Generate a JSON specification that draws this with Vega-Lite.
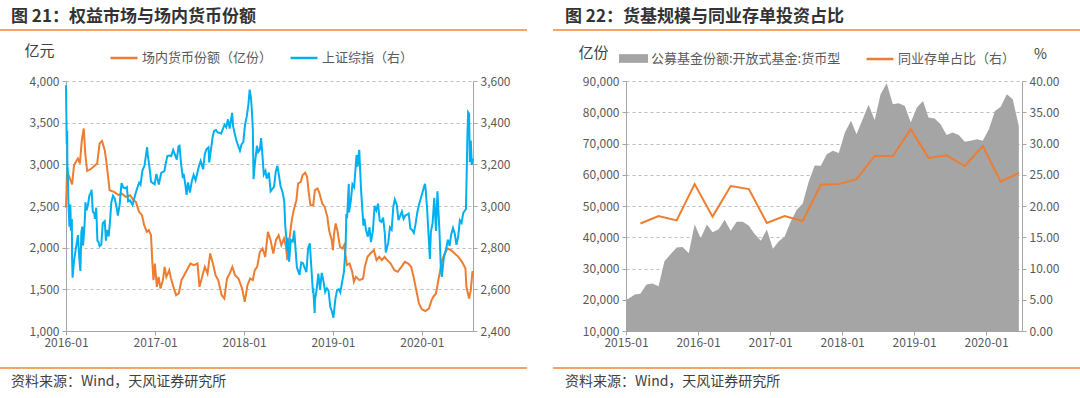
{
  "$schema": "https://vega.github.io/schema/vega-lite/v6.json",
  "background": "white",
  "padding": {"left": 0, "top": 7, "right": 0, "bottom": 0},
  "config": {
    "view": {"stroke": null},
    "font": "Noto Sans CJK SC",
    "axis": {
      "labelFont": "Noto Sans CJK SC",
      "labelFontSize": 12,
      "labelColor": "#595959",
      "domainColor": "#A6A6A6",
      "tickColor": "#A6A6A6",
      "gridColor": "#BFBFBF",
      "gridDash": [3, 3],
      "tickSize": 4,
      "labelPadding": 3,
      "titleFont": "Noto Sans CJK SC"
    },
    "legend": {"labelFont": "Noto Sans CJK SC", "labelFontSize": 13, "labelColor": "#595959", "padding": 0, "labelLimit": 400},
    "title": {"font": "Noto Sans CJK SC"}
  },
  "datasets": {
    "money": [
      {"d": "2016-01-01", "v": 2480}, {"d": "2016-01-05", "v": 2900}, {"d": "2016-01-12", "v": 2870}, {"d": "2016-01-26", "v": 2760},
      {"d": "2016-02-03", "v": 2990}, {"d": "2016-02-19", "v": 3070}, {"d": "2016-02-27", "v": 3010}, {"d": "2016-03-06", "v": 3290},
      {"d": "2016-03-14", "v": 3430}, {"d": "2016-03-20", "v": 3130}, {"d": "2016-03-28", "v": 2920}, {"d": "2016-04-15", "v": 2950},
      {"d": "2016-05-08", "v": 3010}, {"d": "2016-05-18", "v": 3250}, {"d": "2016-05-28", "v": 3280}, {"d": "2016-06-08", "v": 3170},
      {"d": "2016-06-15", "v": 3030}, {"d": "2016-06-28", "v": 2690}, {"d": "2016-07-16", "v": 2670}, {"d": "2016-08-04", "v": 2630},
      {"d": "2016-08-16", "v": 2650}, {"d": "2016-09-02", "v": 2610}, {"d": "2016-09-20", "v": 2630}, {"d": "2016-10-04", "v": 2570},
      {"d": "2016-10-14", "v": 2550}, {"d": "2016-10-27", "v": 2430}, {"d": "2016-11-08", "v": 2390}, {"d": "2016-11-17", "v": 2270},
      {"d": "2016-11-28", "v": 2190}, {"d": "2016-12-06", "v": 2210}, {"d": "2016-12-15", "v": 2150}, {"d": "2016-12-20", "v": 1850},
      {"d": "2016-12-25", "v": 1610}, {"d": "2016-12-31", "v": 1810}, {"d": "2017-01-08", "v": 1530}, {"d": "2017-01-15", "v": 1650},
      {"d": "2017-01-23", "v": 1510}, {"d": "2017-02-02", "v": 1610}, {"d": "2017-02-09", "v": 1770}, {"d": "2017-02-16", "v": 1650},
      {"d": "2017-02-28", "v": 1730}, {"d": "2017-03-07", "v": 1630}, {"d": "2017-03-17", "v": 1530}, {"d": "2017-03-28", "v": 1430},
      {"d": "2017-04-08", "v": 1450}, {"d": "2017-04-19", "v": 1610}, {"d": "2017-04-30", "v": 1670}, {"d": "2017-05-11", "v": 1730},
      {"d": "2017-05-26", "v": 1810}, {"d": "2017-06-09", "v": 1790}, {"d": "2017-06-24", "v": 1810}, {"d": "2017-07-02", "v": 1530},
      {"d": "2017-07-13", "v": 1650}, {"d": "2017-07-24", "v": 1770}, {"d": "2017-08-04", "v": 1690}, {"d": "2017-08-15", "v": 1930},
      {"d": "2017-08-26", "v": 1810}, {"d": "2017-09-06", "v": 1670}, {"d": "2017-09-17", "v": 1610}, {"d": "2017-10-01", "v": 1430},
      {"d": "2017-10-12", "v": 1390}, {"d": "2017-10-23", "v": 1630}, {"d": "2017-11-03", "v": 1690}, {"d": "2017-11-14", "v": 1770},
      {"d": "2017-11-25", "v": 1670}, {"d": "2017-12-09", "v": 1630}, {"d": "2017-12-24", "v": 1510}, {"d": "2018-01-04", "v": 1350},
      {"d": "2018-01-15", "v": 1550}, {"d": "2018-01-26", "v": 1630}, {"d": "2018-02-06", "v": 1610}, {"d": "2018-02-14", "v": 1730},
      {"d": "2018-02-24", "v": 1770}, {"d": "2018-03-07", "v": 1950}, {"d": "2018-03-18", "v": 1990}, {"d": "2018-03-29", "v": 1890},
      {"d": "2018-04-09", "v": 2190}, {"d": "2018-04-20", "v": 2090}, {"d": "2018-05-01", "v": 1930}, {"d": "2018-05-12", "v": 2090},
      {"d": "2018-05-23", "v": 2150}, {"d": "2018-06-03", "v": 2030}, {"d": "2018-06-14", "v": 2110}, {"d": "2018-06-21", "v": 2030},
      {"d": "2018-06-28", "v": 1850}, {"d": "2018-07-09", "v": 2170}, {"d": "2018-07-16", "v": 2330}, {"d": "2018-07-24", "v": 2450},
      {"d": "2018-08-04", "v": 2570}, {"d": "2018-08-11", "v": 2770}, {"d": "2018-08-22", "v": 2790}, {"d": "2018-08-29", "v": 2870},
      {"d": "2018-09-09", "v": 2900}, {"d": "2018-09-17", "v": 2850}, {"d": "2018-09-24", "v": 2650}, {"d": "2018-10-01", "v": 2510},
      {"d": "2018-10-12", "v": 2510}, {"d": "2018-10-19", "v": 2690}, {"d": "2018-10-30", "v": 2710}, {"d": "2018-11-07", "v": 2650},
      {"d": "2018-11-18", "v": 2530}, {"d": "2018-11-28", "v": 2490}, {"d": "2018-12-09", "v": 2370}, {"d": "2018-12-16", "v": 2210},
      {"d": "2018-12-27", "v": 2090}, {"d": "2019-01-01", "v": 1970}, {"d": "2019-01-05", "v": 2150}, {"d": "2019-01-12", "v": 2290},
      {"d": "2019-01-19", "v": 2210}, {"d": "2019-01-30", "v": 2010}, {"d": "2019-02-09", "v": 1990}, {"d": "2019-02-16", "v": 2030},
      {"d": "2019-02-27", "v": 1790}, {"d": "2019-03-10", "v": 1810}, {"d": "2019-03-21", "v": 1710}, {"d": "2019-03-28", "v": 1590},
      {"d": "2019-04-05", "v": 1650}, {"d": "2019-04-20", "v": 1610}, {"d": "2019-05-05", "v": 1630}, {"d": "2019-05-12", "v": 1770},
      {"d": "2019-05-23", "v": 1890}, {"d": "2019-06-03", "v": 1930}, {"d": "2019-06-18", "v": 1970}, {"d": "2019-06-29", "v": 1850},
      {"d": "2019-07-10", "v": 1890}, {"d": "2019-07-21", "v": 1850}, {"d": "2019-08-01", "v": 1890}, {"d": "2019-08-12", "v": 1850},
      {"d": "2019-08-26", "v": 1810}, {"d": "2019-09-10", "v": 1730}, {"d": "2019-09-24", "v": 1710}, {"d": "2019-10-09", "v": 1770},
      {"d": "2019-10-23", "v": 1830}, {"d": "2019-11-06", "v": 1810}, {"d": "2019-11-18", "v": 1770}, {"d": "2019-11-28", "v": 1650},
      {"d": "2019-12-09", "v": 1490}, {"d": "2019-12-20", "v": 1330}, {"d": "2020-01-01", "v": 1260}, {"d": "2020-01-15", "v": 1240},
      {"d": "2020-01-30", "v": 1270}, {"d": "2020-02-10", "v": 1370}, {"d": "2020-02-17", "v": 1410}, {"d": "2020-02-28", "v": 1450},
      {"d": "2020-03-10", "v": 1630}, {"d": "2020-03-24", "v": 1850}, {"d": "2020-04-04", "v": 1930}, {"d": "2020-04-15", "v": 1990},
      {"d": "2020-04-30", "v": 1970}, {"d": "2020-05-15", "v": 1930}, {"d": "2020-05-30", "v": 1890}, {"d": "2020-06-14", "v": 1830},
      {"d": "2020-06-28", "v": 1750}, {"d": "2020-07-02", "v": 1530}, {"d": "2020-07-13", "v": 1390}, {"d": "2020-07-20", "v": 1490},
      {"d": "2020-07-27", "v": 1720}
    ],
    "sse": [
      {"d": "2016-01-01", "v": 3580}, {"d": "2016-01-04", "v": 3296}, {"d": "2016-01-06", "v": 3361}, {"d": "2016-01-07", "v": 3125},
      {"d": "2016-01-08", "v": 3186}, {"d": "2016-01-11", "v": 3017}, {"d": "2016-01-15", "v": 2901}, {"d": "2016-01-19", "v": 3007},
      {"d": "2016-01-21", "v": 2881}, {"d": "2016-01-25", "v": 2938}, {"d": "2016-01-26", "v": 2750}, {"d": "2016-01-28", "v": 2656},
      {"d": "2016-02-03", "v": 2739}, {"d": "2016-02-16", "v": 2837}, {"d": "2016-02-19", "v": 2860}, {"d": "2016-02-25", "v": 2742},
      {"d": "2016-02-29", "v": 2688}, {"d": "2016-03-04", "v": 2875}, {"d": "2016-03-08", "v": 2901}, {"d": "2016-03-11", "v": 2810},
      {"d": "2016-03-17", "v": 2904}, {"d": "2016-03-21", "v": 3018}, {"d": "2016-03-25", "v": 2979}, {"d": "2016-03-31", "v": 3004},
      {"d": "2016-04-06", "v": 3050}, {"d": "2016-04-13", "v": 3066}, {"d": "2016-04-15", "v": 3078}, {"d": "2016-04-20", "v": 2973},
      {"d": "2016-04-26", "v": 2964}, {"d": "2016-04-29", "v": 2938}, {"d": "2016-05-04", "v": 2992}, {"d": "2016-05-09", "v": 2833},
      {"d": "2016-05-13", "v": 2828}, {"d": "2016-05-18", "v": 2807}, {"d": "2016-05-25", "v": 2815}, {"d": "2016-05-31", "v": 2917},
      {"d": "2016-06-08", "v": 2927}, {"d": "2016-06-13", "v": 2834}, {"d": "2016-06-17", "v": 2885}, {"d": "2016-06-24", "v": 2854},
      {"d": "2016-06-30", "v": 2930}, {"d": "2016-07-05", "v": 3017}, {"d": "2016-07-12", "v": 3049}, {"d": "2016-07-19", "v": 3036},
      {"d": "2016-07-27", "v": 2992}, {"d": "2016-08-01", "v": 2954}, {"d": "2016-08-08", "v": 3004}, {"d": "2016-08-16", "v": 3110},
      {"d": "2016-08-23", "v": 3089}, {"d": "2016-08-31", "v": 3085}, {"d": "2016-09-07", "v": 3091}, {"d": "2016-09-12", "v": 3022},
      {"d": "2016-09-20", "v": 3027}, {"d": "2016-09-30", "v": 3005}, {"d": "2016-10-12", "v": 3058}, {"d": "2016-10-19", "v": 3084},
      {"d": "2016-10-27", "v": 3112}, {"d": "2016-11-02", "v": 3102}, {"d": "2016-11-10", "v": 3171}, {"d": "2016-11-18", "v": 3192},
      {"d": "2016-11-24", "v": 3241}, {"d": "2016-11-29", "v": 3282}, {"d": "2016-12-02", "v": 3244}, {"d": "2016-12-12", "v": 3153},
      {"d": "2016-12-15", "v": 3117}, {"d": "2016-12-23", "v": 3110}, {"d": "2016-12-30", "v": 3104}, {"d": "2017-01-06", "v": 3154},
      {"d": "2017-01-16", "v": 3103}, {"d": "2017-01-26", "v": 3159}, {"d": "2017-02-08", "v": 3167}, {"d": "2017-02-15", "v": 3212},
      {"d": "2017-02-20", "v": 3240}, {"d": "2017-02-28", "v": 3242}, {"d": "2017-03-08", "v": 3240}, {"d": "2017-03-16", "v": 3269},
      {"d": "2017-03-23", "v": 3248}, {"d": "2017-03-31", "v": 3223}, {"d": "2017-04-07", "v": 3286}, {"d": "2017-04-11", "v": 3289},
      {"d": "2017-04-18", "v": 3196}, {"d": "2017-04-25", "v": 3134}, {"d": "2017-04-28", "v": 3155}, {"d": "2017-05-05", "v": 3103},
      {"d": "2017-05-10", "v": 3053}, {"d": "2017-05-16", "v": 3113}, {"d": "2017-05-24", "v": 3064}, {"d": "2017-05-31", "v": 3117},
      {"d": "2017-06-08", "v": 3150}, {"d": "2017-06-16", "v": 3123}, {"d": "2017-06-23", "v": 3158}, {"d": "2017-06-30", "v": 3192},
      {"d": "2017-07-07", "v": 3217}, {"d": "2017-07-17", "v": 3176}, {"d": "2017-07-24", "v": 3250}, {"d": "2017-07-31", "v": 3273},
      {"d": "2017-08-08", "v": 3281}, {"d": "2017-08-11", "v": 3209}, {"d": "2017-08-18", "v": 3268}, {"d": "2017-08-25", "v": 3331},
      {"d": "2017-08-31", "v": 3360}, {"d": "2017-09-08", "v": 3365}, {"d": "2017-09-15", "v": 3353}, {"d": "2017-09-22", "v": 3352},
      {"d": "2017-09-29", "v": 3348}, {"d": "2017-10-13", "v": 3390}, {"d": "2017-10-20", "v": 3378}, {"d": "2017-10-27", "v": 3416},
      {"d": "2017-11-03", "v": 3372}, {"d": "2017-11-13", "v": 3447}, {"d": "2017-11-17", "v": 3383}, {"d": "2017-11-23", "v": 3352},
      {"d": "2017-11-30", "v": 3317}, {"d": "2017-12-08", "v": 3289}, {"d": "2017-12-15", "v": 3266}, {"d": "2017-12-22", "v": 3297},
      {"d": "2017-12-29", "v": 3307}, {"d": "2018-01-05", "v": 3391}, {"d": "2018-01-12", "v": 3429}, {"d": "2018-01-19", "v": 3488},
      {"d": "2018-01-24", "v": 3559}, {"d": "2018-01-29", "v": 3523}, {"d": "2018-02-02", "v": 3462}, {"d": "2018-02-06", "v": 3370},
      {"d": "2018-02-09", "v": 3129}, {"d": "2018-02-14", "v": 3199}, {"d": "2018-02-23", "v": 3289}, {"d": "2018-02-28", "v": 3259},
      {"d": "2018-03-07", "v": 3271}, {"d": "2018-03-12", "v": 3326}, {"d": "2018-03-16", "v": 3269}, {"d": "2018-03-23", "v": 3152},
      {"d": "2018-03-30", "v": 3169}, {"d": "2018-04-04", "v": 3131}, {"d": "2018-04-13", "v": 3160}, {"d": "2018-04-20", "v": 3071},
      {"d": "2018-04-27", "v": 3082}, {"d": "2018-05-04", "v": 3091}, {"d": "2018-05-11", "v": 3163}, {"d": "2018-05-18", "v": 3193},
      {"d": "2018-05-25", "v": 3141}, {"d": "2018-05-31", "v": 3095}, {"d": "2018-06-08", "v": 3067}, {"d": "2018-06-15", "v": 3022},
      {"d": "2018-06-19", "v": 2908}, {"d": "2018-06-28", "v": 2786}, {"d": "2018-06-29", "v": 2847}, {"d": "2018-07-05", "v": 2733},
      {"d": "2018-07-12", "v": 2837}, {"d": "2018-07-20", "v": 2829}, {"d": "2018-07-26", "v": 2882}, {"d": "2018-08-02", "v": 2768},
      {"d": "2018-08-06", "v": 2705}, {"d": "2018-08-17", "v": 2669}, {"d": "2018-08-24", "v": 2729}, {"d": "2018-08-31", "v": 2725},
      {"d": "2018-09-07", "v": 2703}, {"d": "2018-09-14", "v": 2682}, {"d": "2018-09-21", "v": 2797}, {"d": "2018-09-28", "v": 2821},
      {"d": "2018-10-11", "v": 2583}, {"d": "2018-10-12", "v": 2606}, {"d": "2018-10-18", "v": 2486}, {"d": "2018-10-19", "v": 2550},
      {"d": "2018-10-26", "v": 2598}, {"d": "2018-11-02", "v": 2676}, {"d": "2018-11-09", "v": 2599}, {"d": "2018-11-16", "v": 2679},
      {"d": "2018-11-22", "v": 2646}, {"d": "2018-11-30", "v": 2588}, {"d": "2018-12-07", "v": 2605}, {"d": "2018-12-14", "v": 2593},
      {"d": "2018-12-21", "v": 2516}, {"d": "2018-12-28", "v": 2494}, {"d": "2019-01-03", "v": 2464}, {"d": "2019-01-11", "v": 2554},
      {"d": "2019-01-18", "v": 2596}, {"d": "2019-01-25", "v": 2601}, {"d": "2019-01-31", "v": 2585}, {"d": "2019-02-15", "v": 2682},
      {"d": "2019-02-22", "v": 2804}, {"d": "2019-02-25", "v": 2961}, {"d": "2019-02-28", "v": 2941}, {"d": "2019-03-07", "v": 3106},
      {"d": "2019-03-08", "v": 2969}, {"d": "2019-03-15", "v": 3021}, {"d": "2019-03-22", "v": 3104}, {"d": "2019-03-29", "v": 3091},
      {"d": "2019-04-08", "v": 3245}, {"d": "2019-04-12", "v": 3189}, {"d": "2019-04-19", "v": 3270}, {"d": "2019-04-26", "v": 3086},
      {"d": "2019-05-06", "v": 2906}, {"d": "2019-05-10", "v": 2939}, {"d": "2019-05-17", "v": 2882}, {"d": "2019-05-24", "v": 2853},
      {"d": "2019-05-31", "v": 2898}, {"d": "2019-06-06", "v": 2827}, {"d": "2019-06-14", "v": 2882}, {"d": "2019-06-21", "v": 3001},
      {"d": "2019-06-28", "v": 2979}, {"d": "2019-07-05", "v": 3011}, {"d": "2019-07-12", "v": 2930}, {"d": "2019-07-19", "v": 2924},
      {"d": "2019-07-26", "v": 2944}, {"d": "2019-08-02", "v": 2868}, {"d": "2019-08-06", "v": 2777}, {"d": "2019-08-16", "v": 2824},
      {"d": "2019-08-23", "v": 2897}, {"d": "2019-08-30", "v": 2886}, {"d": "2019-09-06", "v": 2999}, {"d": "2019-09-12", "v": 3031},
      {"d": "2019-09-20", "v": 3006}, {"d": "2019-09-27", "v": 2932}, {"d": "2019-10-11", "v": 2973}, {"d": "2019-10-18", "v": 2938},
      {"d": "2019-10-25", "v": 2954}, {"d": "2019-11-01", "v": 2958}, {"d": "2019-11-08", "v": 2964}, {"d": "2019-11-15", "v": 2891},
      {"d": "2019-11-22", "v": 2885}, {"d": "2019-11-29", "v": 2871}, {"d": "2019-12-06", "v": 2912}, {"d": "2019-12-13", "v": 2968},
      {"d": "2019-12-20", "v": 3005}, {"d": "2019-12-31", "v": 3050}, {"d": "2020-01-10", "v": 3092}, {"d": "2020-01-14", "v": 3106},
      {"d": "2020-01-17", "v": 3075}, {"d": "2020-01-23", "v": 2977}, {"d": "2020-02-03", "v": 2746}, {"d": "2020-02-07", "v": 2876},
      {"d": "2020-02-14", "v": 2917}, {"d": "2020-02-21", "v": 3039}, {"d": "2020-02-28", "v": 2880}, {"d": "2020-03-05", "v": 3071},
      {"d": "2020-03-13", "v": 2887}, {"d": "2020-03-19", "v": 2702}, {"d": "2020-03-23", "v": 2660}, {"d": "2020-03-31", "v": 2750},
      {"d": "2020-04-10", "v": 2796}, {"d": "2020-04-17", "v": 2838}, {"d": "2020-04-24", "v": 2809}, {"d": "2020-04-30", "v": 2860},
      {"d": "2020-05-08", "v": 2895}, {"d": "2020-05-15", "v": 2868}, {"d": "2020-05-22", "v": 2814}, {"d": "2020-05-29", "v": 2852},
      {"d": "2020-06-05", "v": 2931}, {"d": "2020-06-12", "v": 2919}, {"d": "2020-06-19", "v": 2967}, {"d": "2020-06-30", "v": 2985},
      {"d": "2020-07-03", "v": 3152}, {"d": "2020-07-06", "v": 3332}, {"d": "2020-07-09", "v": 3450}, {"d": "2020-07-13", "v": 3443},
      {"d": "2020-07-16", "v": 3210}, {"d": "2020-07-20", "v": 3314}, {"d": "2020-07-24", "v": 3197}, {"d": "2020-07-28", "v": 3228}
    ],
    "fund": [
      {"d": "2015-01-01", "v": 20100}, {"d": "2015-01-15", "v": 20400}, {"d": "2015-02-15", "v": 21700}, {"d": "2015-03-15", "v": 21900},
      {"d": "2015-04-15", "v": 24900}, {"d": "2015-05-15", "v": 25200}, {"d": "2015-06-15", "v": 24300}, {"d": "2015-07-15", "v": 32300},
      {"d": "2015-08-15", "v": 34600}, {"d": "2015-09-15", "v": 36700}, {"d": "2015-10-15", "v": 36900}, {"d": "2015-11-15", "v": 34900},
      {"d": "2015-12-15", "v": 44100}, {"d": "2016-01-15", "v": 39700}, {"d": "2016-02-15", "v": 44100}, {"d": "2016-03-15", "v": 41600},
      {"d": "2016-04-15", "v": 42600}, {"d": "2016-05-15", "v": 45600}, {"d": "2016-06-15", "v": 42100}, {"d": "2016-07-15", "v": 45000},
      {"d": "2016-08-15", "v": 45000}, {"d": "2016-09-15", "v": 43700}, {"d": "2016-10-15", "v": 41000}, {"d": "2016-11-15", "v": 38900},
      {"d": "2016-12-15", "v": 42500}, {"d": "2017-01-15", "v": 36300}, {"d": "2017-02-15", "v": 38800}, {"d": "2017-03-15", "v": 40200},
      {"d": "2017-04-15", "v": 45000}, {"d": "2017-05-15", "v": 48700}, {"d": "2017-06-15", "v": 50800}, {"d": "2017-07-15", "v": 57700},
      {"d": "2017-08-15", "v": 63000}, {"d": "2017-09-15", "v": 62900}, {"d": "2017-10-15", "v": 66600}, {"d": "2017-11-15", "v": 67700},
      {"d": "2017-12-15", "v": 67000}, {"d": "2018-01-15", "v": 73500}, {"d": "2018-02-15", "v": 77300}, {"d": "2018-03-15", "v": 73000},
      {"d": "2018-04-15", "v": 77800}, {"d": "2018-05-15", "v": 82400}, {"d": "2018-06-15", "v": 77500}, {"d": "2018-07-15", "v": 85800},
      {"d": "2018-08-15", "v": 89300}, {"d": "2018-09-15", "v": 82600}, {"d": "2018-10-15", "v": 82900}, {"d": "2018-11-15", "v": 82000},
      {"d": "2018-12-15", "v": 76700}, {"d": "2019-01-15", "v": 81500}, {"d": "2019-02-15", "v": 83600}, {"d": "2019-03-15", "v": 78300},
      {"d": "2019-04-15", "v": 78000}, {"d": "2019-05-15", "v": 76200}, {"d": "2019-06-15", "v": 72700}, {"d": "2019-07-15", "v": 73500},
      {"d": "2019-08-15", "v": 72700}, {"d": "2019-09-15", "v": 70600}, {"d": "2019-10-15", "v": 70900}, {"d": "2019-11-15", "v": 71400},
      {"d": "2019-12-15", "v": 70900}, {"d": "2020-01-15", "v": 74600}, {"d": "2020-02-15", "v": 80400}, {"d": "2020-03-15", "v": 81800},
      {"d": "2020-04-15", "v": 85800}, {"d": "2020-05-15", "v": 84200}, {"d": "2020-06-15", "v": 75500}
    ],
    "cd": [
      {"d": "2015-03-15", "v": 17.2}, {"d": "2015-06-15", "v": 18.4}, {"d": "2015-09-15", "v": 17.7}, {"d": "2015-12-15", "v": 23.5},
      {"d": "2016-03-15", "v": 18.3}, {"d": "2016-06-15", "v": 23.2}, {"d": "2016-09-15", "v": 22.7}, {"d": "2016-12-15", "v": 17.3},
      {"d": "2017-03-15", "v": 18.4}, {"d": "2017-06-15", "v": 17.6}, {"d": "2017-09-15", "v": 23.4}, {"d": "2017-12-15", "v": 23.5},
      {"d": "2018-03-15", "v": 24.3}, {"d": "2018-06-15", "v": 28.0}, {"d": "2018-09-15", "v": 28.0}, {"d": "2018-12-15", "v": 32.3},
      {"d": "2019-03-15", "v": 27.7}, {"d": "2019-06-15", "v": 28.1}, {"d": "2019-09-15", "v": 26.4}, {"d": "2019-12-15", "v": 29.6},
      {"d": "2020-03-15", "v": 23.9}, {"d": "2020-06-15", "v": 25.3}
    ],
    "none": []
  },
  "spacing": 11,
  "resolve": {
    "scale": {"color": "independent", "fill": "independent", "stroke": "independent"},
    "legend": {"color": "independent", "fill": "independent", "stroke": "independent"}
  },
  "vconcat": [
    {
      "spacing": 26,
      "hconcat": [
        {
          "width": 525, "height": 0.01,
          "view": {"stroke": "#F2A46A", "strokeWidth": 2},
          "title": {"text": "图 21：权益市场与场内货币份额", "anchor": "start", "dx": 10, "offset": 4, "fontSize": 17, "fontWeight": "bold", "color": "#333333"},
          "data": {"name": "none"},
          "mark": "point"
        },
        {
          "width": 529, "height": 0.01,
          "view": {"stroke": "#F2A46A", "strokeWidth": 2},
          "title": {"text": "图 22：货基规模与同业存单投资占比", "anchor": "start", "dx": 11, "offset": 4, "fontSize": 17, "fontWeight": "bold", "color": "#333333"},
          "data": {"name": "none"},
          "mark": "point"
        }
      ]
    },
    {
      "spacing": 26,
      "resolve": {
        "scale": {"color": "independent", "fill": "independent", "stroke": "independent"},
        "legend": {"color": "independent", "fill": "independent", "stroke": "independent"}
      },
      "hconcat": [
        {
          "spacing": 0,
          "resolve": {
            "scale": {"color": "independent", "fill": "independent", "stroke": "independent"},
            "legend": {"color": "independent", "fill": "independent", "stroke": "independent"}
          },
          "hconcat": [
            {"width": 0.01, "height": 0.01, "data": {"name": "none"}, "mark": "point"},
            {
              "width": 407, "height": 250,
              "layer": [
                {
                  "data": {"name": "money"},
                  "mark": {"type": "line", "strokeWidth": 2},
                  "encoding": {
                    "x": {"field": "d", "type": "temporal",
                      "scale": {"domain": [{"year": 2016, "month": 1, "date": 1}, {"year": 2020, "month": 7, "date": 29}]},
                      "axis": {"format": "%Y-%m", "tickCount": {"interval": "year", "step": 1}, "labelFlush": false, "grid": false, "title": null, "labelPadding": 2, "minExtent": 25}},
                    "y": {"field": "v", "type": "quantitative",
                      "scale": {"domain": [1000, 4000]},
                      "axis": {"orient": "left", "values": [1000, 1500, 2000, 2500, 3000, 3500, 4000], "format": ",.0f", "grid": true, "minExtent": 64,
                        "title": "亿元", "titleAngle": 0, "titleX": -42, "titleY": -31, "titleAlign": "left", "titleBaseline": "middle",
                        "titleFontSize": 15, "titleFontWeight": "normal", "titleColor": "#404040"}},
                    "color": {"datum": "场内货币份额（亿份）", "type": "nominal",
                      "scale": {"domain": ["场内货币份额（亿份）", "上证综指（右）"], "range": ["#ED7D31", "#00B0F0"]},
                      "legend": {"orient": "none", "legendX": 43, "legendY": -38, "direction": "horizontal", "title": null,
                        "symbolType": "stroke", "symbolSize": 729, "symbolStrokeWidth": 2.5, "labelOffset": 3, "columnPadding": 12}}
                  }
                },
                {
                  "data": {"name": "sse"},
                  "mark": {"type": "line", "strokeWidth": 2},
                  "encoding": {
                    "x": {"field": "d", "type": "temporal",
                      "scale": {"domain": [{"year": 2016, "month": 1, "date": 1}, {"year": 2020, "month": 7, "date": 29}]}},
                    "y": {"field": "v", "type": "quantitative",
                      "scale": {"domain": [2400, 3600]},
                      "axis": {"orient": "right", "values": [2400, 2600, 2800, 3000, 3200, 3400, 3600], "format": ",.0f", "grid": false, "title": null, "minExtent": 54}},
                    "color": {"datum": "上证综指（右）", "type": "nominal"}
                  }
                }
              ],
              "resolve": {"scale": {"y": "independent"}}
            }
          ]
        },
        {
          "width": 396, "height": 250,
          "layer": [
            {
              "data": {"name": "fund"},
              "mark": {"type": "area"},
              "encoding": {
                "x": {"field": "d", "type": "temporal",
                  "scale": {"domain": [{"year": 2015, "month": 1, "date": 1}, {"year": 2020, "month": 7, "date": 1}]},
                  "axis": {"format": "%Y-%m", "tickCount": {"interval": "year", "step": 1}, "labelFlush": false, "grid": false, "title": null, "labelPadding": 2, "minExtent": 25}},
                "y": {"field": "v", "type": "quantitative",
                  "scale": {"domain": [10000, 90000], "zero": false},
                  "axis": {"orient": "left", "values": [10000, 20000, 30000, 40000, 50000, 60000, 70000, 80000, 90000], "format": ",.0f", "grid": true, "minExtent": 73,
                    "title": "亿份", "titleAngle": 0, "titleX": -48, "titleY": -29, "titleAlign": "left", "titleBaseline": "middle",
                    "titleFontSize": 15, "titleFontWeight": "normal", "titleColor": "#404040"}},
                "y2": {"datum": 10000},
                "fill": {"datum": "公募基金份额:开放式基金:货币型", "type": "nominal",
                  "scale": {"range": ["#A5A5A5"]},
                  "legend": {"orient": "none", "legendX": -7, "legendY": -37, "title": null,
                    "symbolType": "M-1,-0.3H1V0.3H-1Z", "symbolSize": 841, "symbolStrokeWidth": 0, "labelOffset": 3}}
              }
            },
            {
              "data": {"name": "cd"},
              "mark": {"type": "line", "strokeWidth": 2},
              "encoding": {
                "x": {"field": "d", "type": "temporal",
                  "scale": {"domain": [{"year": 2015, "month": 1, "date": 1}, {"year": 2020, "month": 7, "date": 1}]}},
                "y": {"field": "v", "type": "quantitative",
                  "scale": {"domain": [0, 40]},
                  "axis": {"orient": "right", "values": [0, 5, 10, 15, 20, 25, 30, 35, 40], "format": ".2f", "grid": false,
                    "title": "%", "titleAngle": 0, "titleX": 18, "titleY": -27, "titleAlign": "center", "titleBaseline": "middle",
                    "titleFontSize": 14, "titleFontWeight": "normal", "titleColor": "#404040"}},
                "stroke": {"datum": "同业存单占比（右）", "type": "nominal",
                  "scale": {"range": ["#ED7D31"]},
                  "legend": {"orient": "none", "legendX": 239, "legendY": -37, "title": null,
                    "symbolType": "stroke", "symbolSize": 729, "symbolStrokeWidth": 2.5, "labelOffset": 3}}
              }
            }
          ],
          "resolve": {"scale": {"y": "independent"}}
        }
      ]
    },
    {
      "spacing": 26,
      "hconcat": [
        {
          "width": 525, "height": 0.01,
          "view": {"stroke": "#F2A46A", "strokeWidth": 2},
          "title": {"text": "资料来源：Wind，天风证券研究所", "orient": "bottom", "anchor": "start", "dx": 10, "offset": 7, "fontSize": 14, "fontWeight": "normal", "color": "#404040"},
          "data": {"name": "none"},
          "mark": "point"
        },
        {
          "width": 529, "height": 0.01,
          "view": {"stroke": "#F2A46A", "strokeWidth": 2},
          "title": {"text": "资料来源：Wind，天风证券研究所", "orient": "bottom", "anchor": "start", "dx": 11, "offset": 7, "fontSize": 14, "fontWeight": "normal", "color": "#404040"},
          "data": {"name": "none"},
          "mark": "point"
        }
      ]
    }
  ]
}
